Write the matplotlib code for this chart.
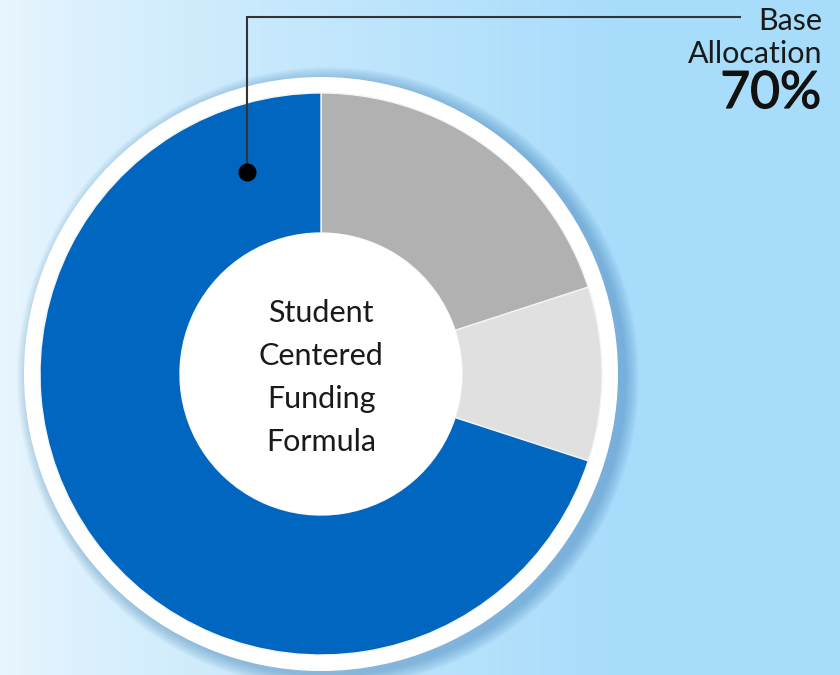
import numpy as np
import matplotlib
matplotlib.use("Agg")
import matplotlib.pyplot as plt
import matplotlib.patheffects as pe
from matplotlib.patches import Circle

plt.rcParams["font.family"] = ["Lato", "DejaVu Sans"]

# slices, clockwise from 12 o'clock
labels = ["Other A", "Other B", "Base Allocation"]
shares = [20, 10, 70]
colors = ["#b1b1b1", "#e0e0e0", "#0066bf"]

center_lines = ["Student", "Centered", "Funding", "Formula"]
callout_lines = ["Base", "Allocation"]
callout_value = "70%"

W, H = 840, 675
cx, cy = 321, H - 374
r_pie, r_hole, r_ring = 281, 141, 297

fig = plt.figure(figsize=(W / 100, H / 100), dpi=100)
ax = fig.add_axes([0, 0, 1, 1])

# background gradient, light on the left, sky blue on the right
t = np.clip(np.linspace(0, 1, W) / 0.75, 0, 1) ** 0.8
left = np.array([233, 246, 254]) / 255
right = np.array([168, 220, 251]) / 255
row = left[None, :] * (1 - t[:, None]) + right[None, :] * t[:, None]
grad = np.repeat(row[None, :, :], 2, axis=0)
ax.imshow(grad, extent=(0, W, 0, H), aspect="auto", zorder=0)

# soft shadow around the white ring
for i in range(14):
    ax.add_patch(Circle((cx + 7, cy - 4), r_ring + 14 - i, color="#2f74b0",
                        alpha=0.03, lw=0, zorder=1))
ax.add_patch(Circle((cx, cy), r_ring, color="white", lw=0, zorder=2))

wedges, _ = ax.pie(shares, colors=colors, startangle=90, counterclock=False,
                   center=(cx, cy), radius=r_pie,
                   wedgeprops=dict(width=r_pie - r_hole, edgecolor="#f4f4f4",
                                   linewidth=1))
for w in wedges:
    w.set_zorder(3)
ax.add_patch(Circle((cx, cy), r_hole, color="white", lw=0, zorder=4))

for i, s in enumerate(center_lines):
    ax.text(cx, H - (313 + i * 43), s, ha="center", va="center",
            fontsize=22, color="#1a1a1a", zorder=5)

# callout line with dot
ax.plot([247, 247, 740], [H - 172, H - 17, H - 17], color="#333333",
        lw=1.5, zorder=6, solid_joinstyle="miter")
ax.plot([247], [H - 172], "o", color="black", ms=12, zorder=7)

ax.text(822, H - 21, callout_lines[0], ha="right", va="center",
        fontsize=22, color="#1a1a1a", zorder=6)
ax.text(822, H - 54, callout_lines[1], ha="right", va="center",
        fontsize=22, color="#1a1a1a", zorder=6)
ax.text(821, H - 94, callout_value, ha="right", va="center",
        fontsize=37, color="#111111", zorder=6,
        path_effects=[pe.withStroke(linewidth=0.9, foreground="#111111")])

ax.set_xlim(0, W)
ax.set_ylim(0, H)
ax.set_aspect("auto")
ax.axis("off")

fig.savefig("out.png", dpi=100)
